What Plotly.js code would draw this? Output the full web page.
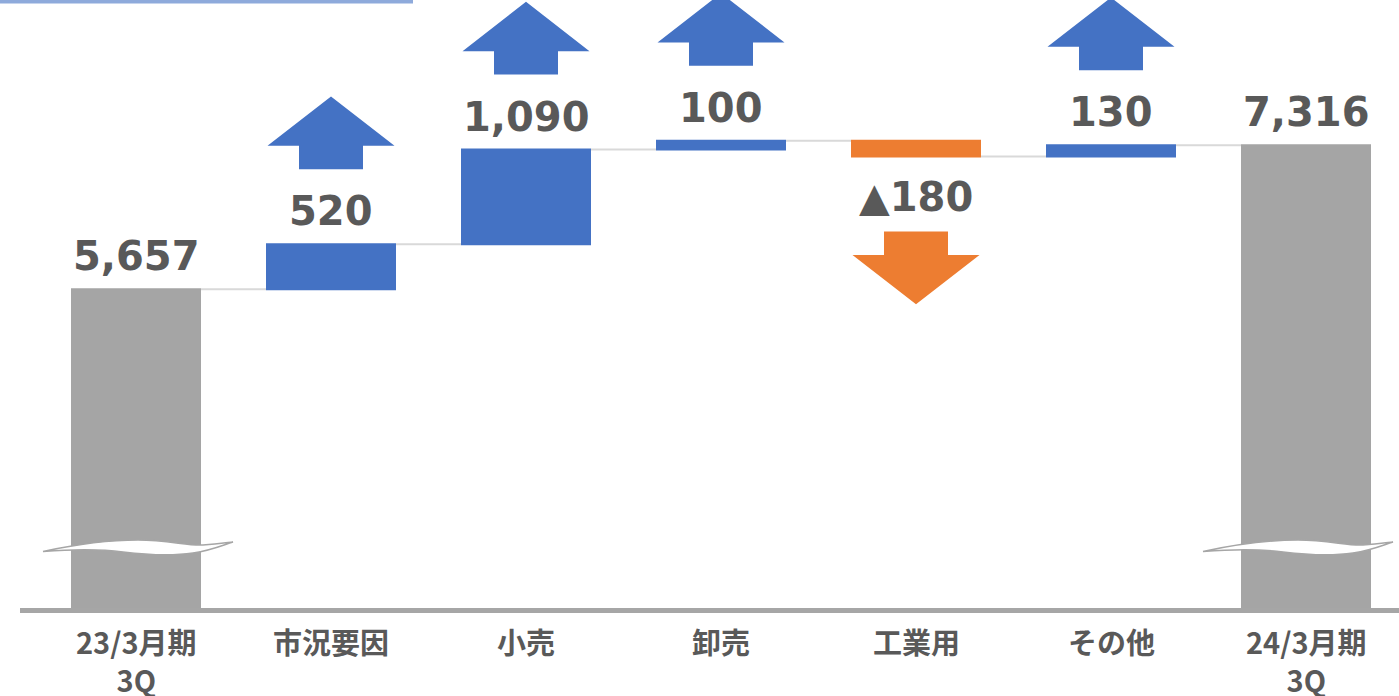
<!DOCTYPE html>
<html><head><meta charset="utf-8">
<script src="https://cdn.plot.ly/plotly-3.0.1.min.js"></script>
<style>html,body{margin:0;padding:0;background:#fff}#chart{width:1399px;height:696px}</style>
</head><body><div id="chart"></div>
<script>
// ---- data ----
const categories = ['23/3月期<br>3Q', '市況要因', '小売', '卸売', '工業用', 'その他', '24/3月期<br>3Q'];
const values = [5657, 520, 1090, 100, -180, 130, 7316];
const measures = ['absolute', 'relative', 'relative', 'relative', 'relative', 'relative', 'absolute'];
const valueLabels = ['5,657', '520', '1,090', '100', '▲180', '130', '7,316'];
const yRange = [1985, 8990];   // broken axis: bars start above zero

// ---- layout / style constants (pixels) ----
const W = 1399, H = 696;
const M = {l: 20, r: 0, t: 0, b: 88};
const plotW = W - M.l - M.r, plotH = H - M.t - M.b;
const pitch = 195, firstCenter = 136;
const x0 = (M.l - firstCenter) / pitch;
const xRange = [x0, x0 + plotW / pitch];
const pxY = plotH / (yRange[1] - yRange[0]);
const pxX = pitch;
const BLUE = '#4472c4', ORANGE = '#ed7d31', GRAY = '#a5a5a5', TXT = '#595959';

const idx = categories.map((c, i) => i);

// running totals
let run = 0; const lo = [], hi = [];
values.forEach((v, i) => {
  let s, e;
  if (measures[i] === 'absolute') { s = 0; e = v; } else { s = run; e = run + v; }
  run = e; lo.push(Math.min(s, e)); hi.push(Math.max(s, e));
});

function toPath(segs, xc, yv) {
  return segs.map(s => {
    if (s === 'Z') return 'Z';
    const cmd = s[0];
    const pts = s.slice(1).map(p => (xc + p[0] / pxX) + ',' + (yv - p[1] / pxY));
    return cmd + pts.join(' ');
  }).join(' ');
}

const shapes = [];
const annotations = [];

// arrows
const ARROW_GAP = 75, SHAFT = 32, HEAD = 63.5, SHAFT_H = 23.4, TOTAL_H = 72.7;
values.forEach((v, i) => {
  if (measures[i] !== 'relative') return;
  const up = v > 0;
  const color = up ? BLUE : ORANGE;
  const sg = up ? -1 : 1;
  const yAnchorVal = up ? hi[i] + ARROW_GAP / pxY : lo[i] - ARROW_GAP / pxY;
  const segs = [['M', [-SHAFT, 0]], ['L', [-SHAFT, sg * SHAFT_H]], ['L', [-HEAD, sg * SHAFT_H]], ['L', [0, sg * TOTAL_H]],
                ['L', [HEAD, sg * SHAFT_H]], ['L', [SHAFT, sg * SHAFT_H]], ['L', [SHAFT, 0]], 'Z'];
  shapes.push({type: 'path', xref: 'x', yref: 'y', path: toPath(segs, i, yAnchorVal), fillcolor: color, line: {width: 0}});
});

// break marks on absolute bars
const breakVal = yRange[0] + 60 / pxY;
const breakSegs = [['M', [-95, 3.4]], ['C', [-65, -3], [-30, -8], [0, -8]], ['C', [30, -8], [50, -2], [65, -3]],
                   ['C', [80, -4], [90, -5.5], [95, -6]], ['C', [85, -3], [75, 2], [55, 5]],
                   ['C', [35, 8], [10, 7], [-15, 4]], ['C', [-45, 0], [-75, 2], [-95, 3.4]], 'Z'];
const breakOffset = [2, 0, 0, 0, 0, 0, -8];
values.forEach((v, i) => {
  if (measures[i] !== 'absolute') return;
  shapes.push({type: 'path', xref: 'x', yref: 'y', path: toPath(breakSegs, i + breakOffset[i] / pxX, breakVal),
               fillcolor: '#ffffff', line: {color: '#a6a6a6', width: 1.5}});
});

// top-left decorative line
shapes.push({type: 'rect', xref: 'paper', yref: 'paper', x0: -M.l / plotW, x1: (413 - M.l) / plotW,
             y0: 1 - 3.5 / plotH, y1: 1 + 1 / plotH, fillcolor: '#8eaadb', line: {width: 0}, layer: 'above'});

// value labels
values.forEach((v, i) => {
  const neg = measures[i] === 'relative' && v < 0;
  annotations.push({
    x: i, xref: 'x', yref: 'y', y: neg ? lo[i] : hi[i],
    yanchor: neg ? 'top' : 'bottom', yshift: neg ? -16 : 8,
    text: valueLabels[i], showarrow: false,
    font: {family: 'DejaVu Sans', size: 40, color: TXT, weight: 700}
  });
});

// category labels
const CAT_SIZE = 29;
categories.forEach((c, i) => {
  const nLines = c.split('<br>').length;
  annotations.push({
    x: i, xref: 'x', yref: 'paper', y: 0, yanchor: 'middle',
    yshift: -33 - (nLines - 1) * CAT_SIZE * 1.3 / 2,
    text: c, showarrow: false, align: 'center',
    font: {family: 'Noto Sans CJK JP', size: CAT_SIZE, color: TXT, weight: 700}
  });
});

const trace = {
  type: 'waterfall',
  x: idx, y: values, measure: measures,
  textinfo: 'none', hoverinfo: 'skip',
  increasing: {marker: {color: BLUE}},
  decreasing: {marker: {color: ORANGE}},
  totals: {marker: {color: GRAY}},
  connector: {mode: 'between', line: {color: '#d9d9d9', width: 2}}
};

const layout = {
  width: W, height: H, margin: M,
  paper_bgcolor: '#ffffff', plot_bgcolor: '#ffffff',
  showlegend: false, waterfallgap: 65 / 195,
  xaxis: {type: 'linear', range: xRange, showgrid: false, zeroline: false, showticklabels: false,
          ticks: '', showline: true, linecolor: '#a6a6a6', linewidth: 5, fixedrange: true},
  yaxis: {range: yRange, visible: false, showgrid: false, zeroline: false, fixedrange: true},
  shapes: shapes, annotations: annotations
};

Plotly.newPlot('chart', [trace], layout, {displayModeBar: false, staticPlot: true});
</script></body></html>
